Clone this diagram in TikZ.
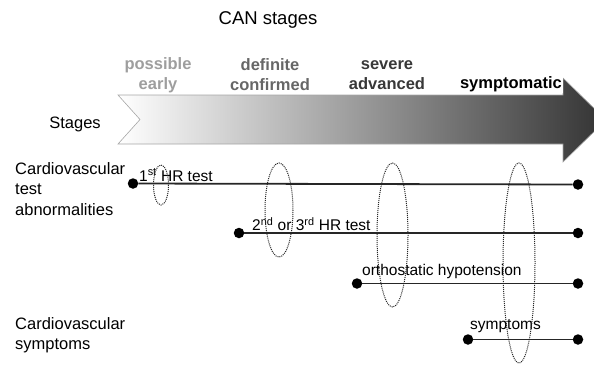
\documentclass[tikz,border=0pt]{standalone}
\usepackage{fontspec}
\setmainfont{Liberation Sans}
\begin{document}
\begin{tikzpicture}[x=1pt,y=-1pt,
  txt/.style={inner sep=0pt, font=\fontsize{16.5}{20.5}\selectfont},
  stagelbl/.style={inner sep=0pt, align=center, font=\fontsize{16.5}{20}\selectfont\bfseries},
  linelbl/.style={inner sep=0pt, font=\fontsize{15.5}{18}\selectfont, anchor=west},
  bar/.style={line width=1.8pt, black!85},
  dot/.style={circle, fill=black, inner sep=0pt, minimum size=10.5pt},
  ring/.style={draw=black!85, densely dotted, line width=1pt}]
\useasboundingbox (0,0) rectangle (594,365);
\clip (0,0) rectangle (594,365);
% title
\node[txt, font=\fontsize{18.5}{22}\selectfont] (title) at (268,20) {CAN stages};
% arrow
\shade[left color=white, right color=black!80, draw=black!35, line width=0.6pt]
  (118,95) -- (563,95) -- (563,78) -- (606,120) -- (563,162) -- (563,144)
  -- (118,144) -- (140,119.5) -- cycle;
% stage labels
\node[stagelbl, text=black!38] (s1) at (158,75) {possible\\early};
\node[stagelbl, text=black!60] (s2) at (270,75) {definite\\confirmed};
\node[stagelbl, text=black!78] (s3) at (387,75) {severe\\advanced};
\node[stagelbl, text=black, fill=white, inner sep=1pt, anchor=east] (s4) at (563,84) {symptomatic};
% left labels
\node[txt] (stg) at (75,124) {Stages};
\node[txt, anchor=north west, align=left] (cta) at (15,162) {Cardiovascular\\test\\abnormalities};
\node[txt, anchor=north west, align=left] (cs) at (15,317) {Cardiovascular\\symptoms};
% lines
\node[dot] (a1) at (133,183.5) {};
\node[dot] (b1) at (578,184.5) {};
\node[dot] (a2) at (239,233) {};
\node[dot] (b2) at (578,233) {};
\node[dot] (a3) at (357,283.5) {};
\node[dot] (b3) at (578,283.5) {};
\node[dot] (a4) at (468,339.5) {};
\node[dot] (b4) at (578,339.5) {};
\draw[bar] (a1) -- (b1);
\draw[bar] (a2) -- (b2);
\draw[bar] (a3) -- (b3);
\draw[bar] (a4) -- (b4);
% line labels
\node[linelbl] (l1) at (139,175) {1\textsuperscript{st} HR test};
\node[linelbl] (l2) at (252,224) {2\textsuperscript{nd} or 3\textsuperscript{rd} HR test};
\node[linelbl] (l3) at (362,271) {orthostatic hypotension};
\node[linelbl] (l4) at (470,326) {symptoms};
% dotted ellipses
\draw[ring] (161,185) ellipse [x radius=7.5, y radius=20];
\draw[ring] (279,210) ellipse [x radius=14, y radius=47];
\draw[ring] (392.5,235) ellipse [x radius=15.5, y radius=72];
\draw[ring] (519,263) ellipse [x radius=16, y radius=100];
\end{tikzpicture}
\end{document}
